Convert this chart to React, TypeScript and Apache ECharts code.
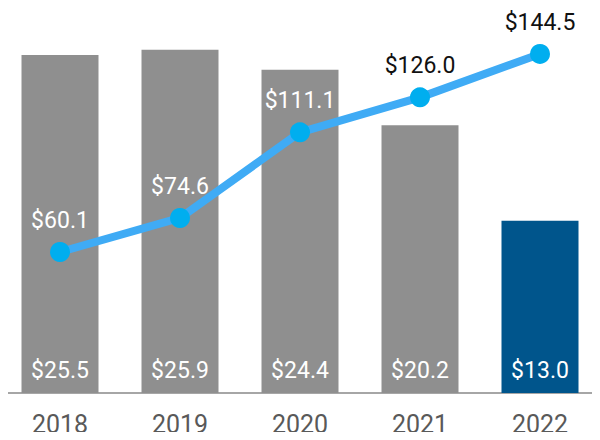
import React, { useEffect, useRef } from "react";
import * as echarts from "echarts";

const categories = ["2018", "2019", "2020", "2021", "2022"];
const barValues = [25.5, 25.9, 24.4, 20.2, 13.0];
const lineValues = [60.1, 74.6, 111.1, 126.0, 144.5];
const lineLabelColors = ["#ffffff", "#ffffff", "#ffffff", "#111111", "#111111"];
const barColors = ["#8f8f8f", "#8f8f8f", "#8f8f8f", "#8f8f8f", "#00558c"];

export default function App() {
  const ref = useRef<HTMLDivElement>(null);
  useEffect(() => {
    if (!ref.current) return;
    const chart = echarts.init(ref.current, null, { renderer: "svg" });
    chart.setOption({
      animation: false,
      textStyle: { fontFamily: "Roboto" },
      grid: { left: 0, right: 0, top: 0, bottom: 47, containLabel: false },
      xAxis: {
        type: "category",
        data: categories,
        axisTick: { show: false },
        axisLine: { lineStyle: { color: "#a6a6a6", width: 2 } },
        axisLabel: { color: "#595959", fontSize: 25, margin: 19, fontFamily: "Roboto" },
      },
      yAxis: [
        { type: "value", min: 0, max: 29.66, show: false, splitLine: { show: false } },
        { type: "value", min: 0, max: 167.5, show: false, splitLine: { show: false } },
      ],
      series: [
        {
          type: "bar",
          yAxisIndex: 0,
          barWidth: 77,
          data: barValues.map((v, i) => ({ value: v, itemStyle: { color: barColors[i] } })),
          label: {
            show: true,
            position: "insideBottom",
            distance: 11,
            color: "#ffffff",
            fontSize: 23,
            fontFamily: "Roboto",
            formatter: (p: any) => "$" + p.value.toFixed(1),
          },
        },
        {
          type: "line",
          yAxisIndex: 1,
          data: lineValues.map((v, i) => ({
            value: v,
            label: { color: lineLabelColors[i] },
          })),
          lineStyle: { color: "#3fabf5", width: 8 },
          itemStyle: { color: "#00aeef" },
          symbol: "circle",
          symbolSize: 20,
          label: {
            show: true,
            position: "top",
            distance: 10,
            fontSize: 23,
            fontFamily: "Roboto",
            formatter: (p: any) => "$" + p.value.toFixed(1),
          },
        },
      ],
    });
    return () => chart.dispose();
  }, []);
  return <div ref={ref} style={{ width: 600, height: 440, margin: -8 }} />;
}
